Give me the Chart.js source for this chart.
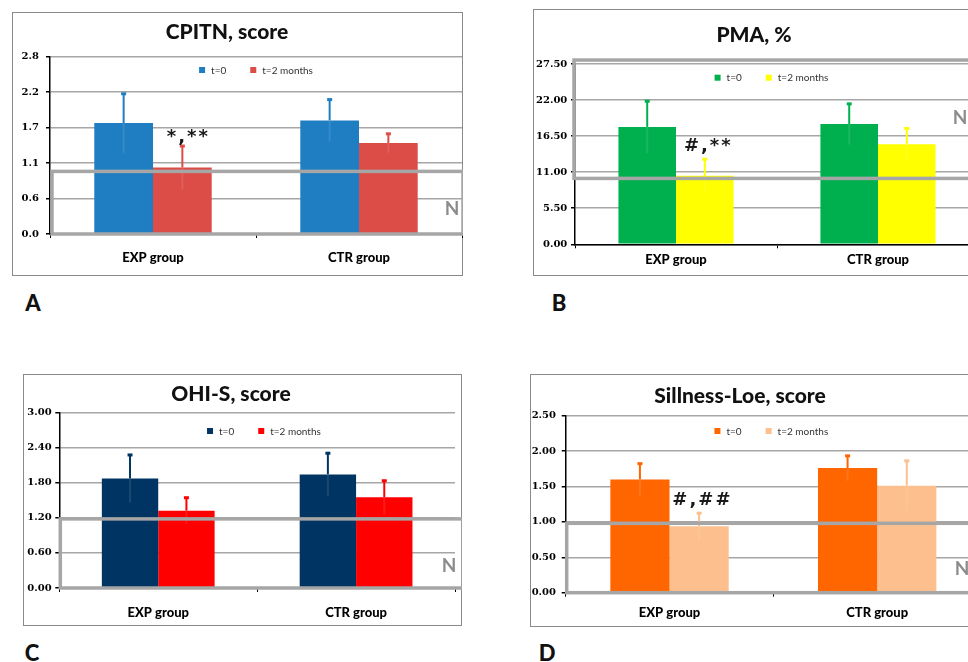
<!DOCTYPE html>
<html>
<head>
<meta charset="utf-8">
<script src="https://cdn.jsdelivr.net/npm/chart.js@4.4.1/dist/chart.umd.min.js"></script>
<style>
  html, body { margin: 0; padding: 0; background: #fff; width: 968px; height: 662px; overflow: hidden; }
  .box { position: absolute; border: 1.5px solid #8a8a8a; box-sizing: border-box; }
  canvas { position: absolute; }
  .title, .letter { position: absolute; transform: translate(-50%, -50%); font-family: Lato, sans-serif; font-weight: 900; color: #111; white-space: nowrap; }
  .title { font-size: 21px; }
  .letter { font-size: 22px; }
</style>
</head>
<body>

<div class="box" style="left:12px;top:12px;width:451px;height:264px"></div>
<div class="box" style="left:533px;top:9px;width:500px;height:267px"></div>
<div class="box" style="left:23px;top:374px;width:439px;height:252px"></div>
<div class="box" style="left:530px;top:374px;width:500px;height:253px"></div>

<canvas id="chartA" width="451" height="264" style="left:12px;top:12px"></canvas>
<canvas id="chartB" width="467" height="267" style="left:533px;top:9px"></canvas>
<canvas id="chartC" width="439" height="252" style="left:23px;top:374px"></canvas>
<canvas id="chartD" width="470" height="253" style="left:530px;top:374px"></canvas>

<div class="title" style="left:227px;top:30px">CPITN, score</div>
<div class="title" style="left:754px;top:33px">PMA, %</div>
<div class="title" style="left:231px;top:392px">OHI-S, score</div>
<div class="title" style="left:740px;top:394px">Sillness-Loe, score</div>

<div class="letter" style="left:33px;top:302px">A</div>
<div class="letter" style="left:559px;top:302px">B</div>
<div class="letter" style="left:32px;top:652px">C</div>
<div class="letter" style="left:547px;top:652px">D</div>

<script>
// --- datos comunes ---
const groups = ['EXP group', 'CTR group'];
const seriesNames = ['t=0', 't=2 months'];

// A: CPITN
const cpitnT0 = [1.72, 1.76];
const cpitnT0Err = [0.46, 0.33];
const cpitnT2 = [1.03, 1.41];
const cpitnT2Err = [0.34, 0.15];
const cpitnNotes = ['*,**', ''];
const cpitnTicks = [0, 0.55, 1.1, 1.65, 2.2, 2.75];
const cpitnTickLabels = ['0.0', '0.6', '1.1', '1.7', '2.2', '2.8'];
const cpitnNormal = [0, 0.97];

// B: PMA
const pmaT0 = [17.9, 18.35];
const pmaT0Err = [4.0, 3.15];
const pmaT2 = [10.45, 15.25];
const pmaT2Err = [2.6, 2.5];
const pmaNotes = ['#,**', ''];
const pmaTicks = [0, 5.5, 11, 16.5, 22, 27.5];
const pmaTickLabels = ['0.00', '5.50', '11.00', '16.50', '22.00', '27.50'];
const pmaNormal = [10.05, 28.1];

// C: OHI-S
const ohisT0 = [1.87, 1.94];
const ohisT0Err = [0.41, 0.37];
const ohisT2 = [1.32, 1.55];
const ohisT2Err = [0.23, 0.29];
const ohisNotes = ['', ''];
const ohisTicks = [0, 0.6, 1.2, 1.8, 2.4, 3.0];
const ohisTickLabels = ['0.00', '0.60', '1.20', '1.80', '2.40', '3.00'];
const ohisNormal = [0, 1.18];

// D: Sillness-Loe
const slT0 = [1.60, 1.76];
const slT0Err = [0.23, 0.18];
const slT2 = [0.94, 1.51];
const slT2Err = [0.19, 0.36];
const slNotes = ['#,##', ''];
const slTicks = [0, 0.5, 1.0, 1.5, 2.0, 2.5];
const slTickLabels = ['0.00', '0.50', '1.00', '1.50', '2.00', '2.50'];
const slNormal = [0, 0.98];

// Plugin: barras de error, caja de rango normal "N", anotaciones y leyenda interna
const panelDecor = {
    id: 'panelDecor',
    afterDatasetsDraw(chart, args, o) {
        const ctx = chart.ctx;
        const ys = chart.scales.y;
        const area = chart.chartArea;

        // barras de error
        chart.data.datasets.forEach((ds, i) => {
            chart.getDatasetMeta(i).data.forEach((bar, j) => {
                const v = ds.data[j], e = ds.errors[j];
                const top = ys.getPixelForValue(v + e);
                const low = ys.getPixelForValue(v - e);
                ctx.save();
                ctx.lineWidth = 2;
                ctx.strokeStyle = 'rgba(255,255,255,0.1)';
                ctx.beginPath(); ctx.moveTo(bar.x, bar.y); ctx.lineTo(bar.x, low); ctx.stroke();
                ctx.strokeStyle = ds.backgroundColor;
                ctx.beginPath(); ctx.moveTo(bar.x, bar.y); ctx.lineTo(bar.x, top); ctx.stroke();
                ctx.fillStyle = ds.backgroundColor;
                ctx.fillRect(bar.x - 2.5, top - 1, 5, 3);
                ctx.restore();
            });
        });

        // caja del rango normal
        const yTop = ys.getPixelForValue(o.normal[1]);
        const yBot = ys.getPixelForValue(o.normal[0]);
        const left = area.left + o.boxL, right = area.right + o.boxR;
        ctx.save();
        ctx.strokeStyle = '#a6a6a6';
        ctx.lineWidth = 3.5;
        ctx.strokeRect(left, yTop, right - left, yBot - yTop);
        ctx.fillStyle = '#8c8c8c';
        ctx.font = 'bold 19px Lato';
        ctx.textAlign = 'center';
        ctx.textBaseline = 'middle';
        ctx.fillText('N', area.right + o.nDx, ys.getPixelForValue(o.nAt));
        ctx.restore();

        // anotaciones de significancia
        chart.data.datasets.forEach((ds, i) => {
            chart.getDatasetMeta(i).data.forEach((bar, j) => {
                const txt = ds.notes[j];
                if (!txt) return;
                const top = ys.getPixelForValue(ds.data[j] + ds.errors[j]);
                ctx.save();
                ctx.fillStyle = '#1a1a1a';
                ctx.font = 'bold 18px "DejaVu Sans"';
                ctx.letterSpacing = '2px';
                ctx.textAlign = 'center';
                ctx.textBaseline = 'middle';
                ctx.fillText(txt, bar.x + o.noteDx, top + o.noteDy);
                ctx.restore();
            });
        });

        // leyenda dentro del área del gráfico
        ctx.save();
        ctx.font = '10px Lato';
        ctx.textBaseline = 'middle';
        const sq = 6, gap = 6, itemGap = 24;
        const widths = chart.data.datasets.map(ds => ctx.measureText(ds.label).width);
        const total = widths.reduce((a, w) => a + sq + gap + w, 0) + itemGap * (widths.length - 1);
        let x = (area.left + area.right) / 2 + o.legendDx - total / 2;
        const y = area.top + o.legendDy;
        chart.data.datasets.forEach((ds, i) => {
            ctx.fillStyle = ds.backgroundColor;
            ctx.fillRect(x, y - sq / 2, sq, sq);
            ctx.fillStyle = '#333';
            ctx.fillText(ds.label, x + sq + gap, y + 0.5);
            x += sq + gap + widths[i] + itemGap;
        });
        ctx.restore();
    }
};

function makeChart(id, p) {
    return new Chart(document.getElementById(id), {
        type: 'bar',
        data: {
            labels: groups,
            datasets: [
                { label: seriesNames[0], data: p.t0, errors: p.e0, notes: ['', ''], backgroundColor: p.colors[0] },
                { label: seriesNames[1], data: p.t2, errors: p.e2, notes: p.notes, backgroundColor: p.colors[1] }
            ]
        },
        options: {
            responsive: false,
            animation: false,
            categoryPercentage: 0.57,
            barPercentage: 1,
            layout: { padding: { left: 0, right: p.padR, top: p.padT, bottom: 0 } },
            plugins: {
                legend: { display: false },
                tooltip: { enabled: false },
                panelDecor: p.decor
            },
            scales: {
                x: {
                    offset: true,
                    grid: { display: true, drawOnChartArea: false, offset: true, tickLength: 4, color: '#000', lineWidth: 1 },
                    border: { display: true, color: '#000', width: 1.5 },
                    ticks: { color: '#000', padding: p.xPad, font: { family: 'Lato', weight: 900, size: 13 } },
                    afterFit: s => { s.height = p.xH; }
                },
                y: {
                    min: 0,
                    max: p.ticks[p.ticks.length - 1],
                    afterBuildTicks: s => { s.ticks = p.ticks.map(v => ({ value: v })); },
                    grid: { color: '#a6a6a6', lineWidth: 1.5, tickLength: 4, tickColor: '#000' },
                    border: { display: true, color: '#000', width: 1.5 },
                    ticks: {
                        color: '#000',
                        padding: p.yPad,
                        font: { family: 'DejaVu Serif', weight: 'bold', size: 10 },
                        callback: (v, i) => p.tickLabels[i]
                    },
                    afterFit: s => { s.width = p.yW; }
                }
            }
        },
        plugins: [panelDecor]
    });
}

makeChart('chartA', {
    t0: cpitnT0, e0: cpitnT0Err, t2: cpitnT2, e2: cpitnT2Err, notes: cpitnNotes,
    ticks: cpitnTicks, tickLabels: cpitnTickLabels, colors: ['#1f7dc2', '#dc4d48'],
    yW: 38, padR: 1, padT: 44.5, xH: 42, xPad: 12, yPad: 7,
    decor: { normal: cpitnNormal, boxL: 2, boxR: 1, nDx: -10, nAt: 0.39, noteDx: 6, noteDy: -8, legendDx: 0, legendDy: 13.5 }
});

makeChart('chartB', {
    t0: pmaT0, e0: pmaT0Err, t2: pmaT2, e2: pmaT2Err, notes: pmaNotes,
    ticks: pmaTicks, tickLabels: pmaTickLabels, colors: ['#00b04f', '#ffff00'],
    yW: 42, padR: 21, padT: 55, xH: 31.7, xPad: 4, yPad: 3.7,
    decor: { normal: pmaNormal, boxL: -1, boxR: 40, nDx: -19, nAt: 19.3, noteDx: 3.5, noteDy: -12, legendDx: -5.5, legendDy: 13.7 }
});

makeChart('chartC', {
    t0: ohisT0, e0: ohisT0Err, t2: ohisT2, e2: ohisT2Err, notes: ohisNotes,
    ticks: ohisTicks, tickLabels: ohisTickLabels, colors: ['#003462', '#ff0000'],
    yW: 36.3, padR: 7, padT: 38.3, xH: 38, xPad: 13.5, yPad: 3.6,
    decor: { normal: ohisNormal, boxL: 1, boxR: 8, nDx: -6, nAt: 0.38, noteDx: 0, noteDy: -12, legendDx: 6.8, legendDy: 18.7 }
});

makeChart('chartD', {
    t0: slT0, e0: slT0Err, t2: slT2, e2: slT2Err, notes: slNotes,
    ticks: slTicks, tickLabels: slTickLabels, colors: ['#ff6600', '#fcbf8d'],
    yW: 35.7, padR: 19, padT: 41.7, xH: 34.3, xPad: 8.8, yPad: 5.7,
    decor: { normal: slNormal, boxL: 1, boxR: 30, nDx: -19, nAt: 0.33, noteDx: 3.3, noteDy: -12.7, legendDx: -2, legendDy: 15.3 }
});
</script>
</body>
</html>
